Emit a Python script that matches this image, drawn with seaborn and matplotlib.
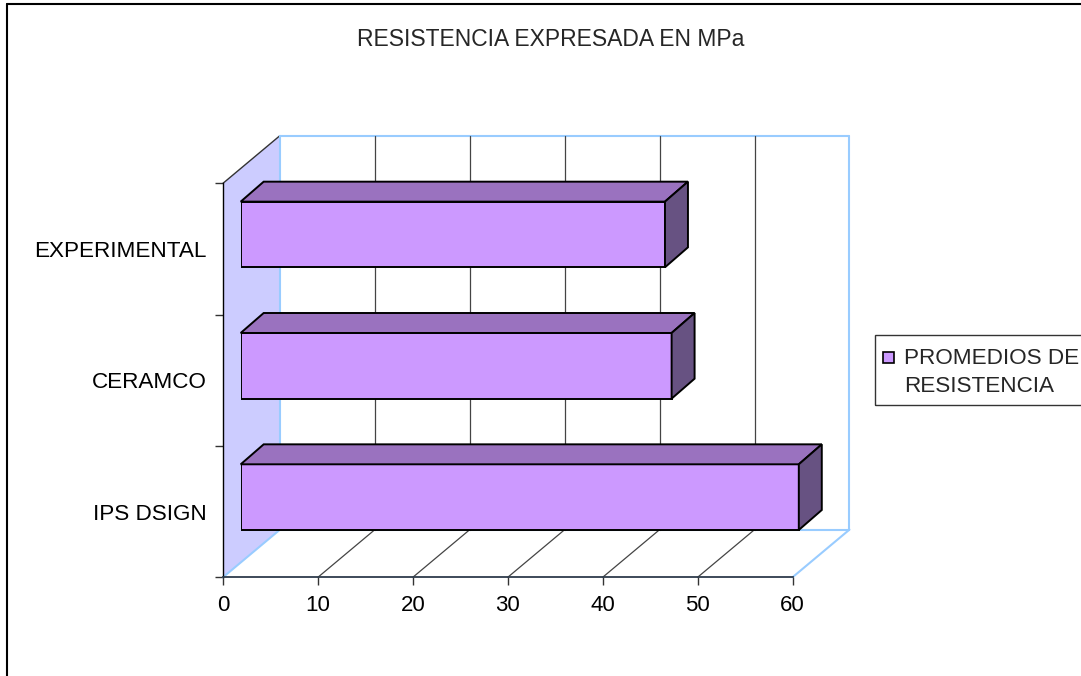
import matplotlib
matplotlib.use("Agg")
import matplotlib.pyplot as plt
from matplotlib.patches import Polygon, Rectangle
from matplotlib.lines import Line2D
import seaborn as sns
import pandas as pd

categories = ["EXPERIMENTAL", "CERAMCO", "IPS DSIGN"]
values = [44.7, 45.4, 58.8]
xticks = [0, 10, 20, 30, 40, 50, 60]
title = "RESISTENCIA EXPRESADA EN MPa"
series_name = "PROMEDIOS DE\nRESISTENCIA"

df = pd.DataFrame({"grupo": categories, "mpa": values})

sns.set_theme(style="white")
plt.rcParams["font.family"] = ["Liberation Sans", "DejaVu Sans"]

W, H = 1081, 676
fig = plt.figure(figsize=(W / 100, H / 100), dpi=100)


def box(x0, y0, x1, y1):
    # pixel box, origin top-left -> figure fraction
    return [x0 / W, 1 - y1 / H, (x1 - x0) / W, (y1 - y0) / H]


# front plane (axes) and bar plane shifted into depth
ax = fig.add_axes(box(223, 183.3, 792.5, 577.3))
ax2 = fig.add_axes(box(223 + 17.7, 183.3 - 14.5, 792.5 + 17.7, 577.3 - 14.5))

xmax = xticks[-1]
ax.set_xlim(0, xmax)
ax.set_ylim(2.5, -0.5)

# depth of the walls and of the bars in data units
wdx, wdy = 6.0, -0.363
bdx, bdy = 2.42, -0.152
blue = "#99ccff"

top, bot = -0.5, 2.5
ax.add_patch(Polygon([(0, bot), (0, top), (wdx, top + wdy), (wdx, bot + wdy)],
                     closed=True, fc="#ccccff", ec="none", zorder=0, clip_on=False))
ax.plot([0, wdx], [top, top + wdy], color="#333333", lw=1, clip_on=False, zorder=1)
ax.plot([wdx, wdx], [top + wdy, bot + wdy], color=blue, lw=1.5, clip_on=False, zorder=1)
ax.plot([wdx, xmax + wdx], [top + wdy, top + wdy], color=blue, lw=1.5, clip_on=False, zorder=1)
ax.plot([xmax + wdx, xmax + wdx], [top + wdy, bot + wdy], color=blue, lw=1.5, clip_on=False, zorder=1)
ax.plot([wdx, xmax + wdx], [bot + wdy, bot + wdy], color=blue, lw=1.5, clip_on=False, zorder=1)
ax.plot([0, wdx], [bot, bot + wdy], color=blue, lw=1.5, clip_on=False, zorder=1)
ax.plot([xmax, xmax + wdx], [bot, bot + wdy], color=blue, lw=1.5, clip_on=False, zorder=1)
for t in xticks[1:-1]:
    ax.plot([t + wdx, t + wdx], [top + wdy, bot + wdy], color="#444444", lw=0.9, clip_on=False, zorder=1)
    ax.plot([t, t + wdx], [bot, bot + wdy], color="#444444", lw=0.9, clip_on=False, zorder=1)

ax.set_xticks(xticks)
ax.set_yticks([0, 1, 2])
ax.set_yticklabels(categories)
ax.set_yticks([-0.5, 0.5, 1.5, 2.5], minor=True)
ax.tick_params(axis="x", bottom=True, direction="out", length=6, width=1,
               color="#333333", labelsize=16, pad=7, labelcolor="black")
ax.tick_params(axis="y", which="major", left=True, length=0, pad=12,
               labelsize=16.2, labelcolor="black")
ax.tick_params(axis="y", which="minor", left=True, direction="out", length=6,
               width=1, color="#333333")
for s in ["top", "right"]:
    ax.spines[s].set_visible(False)
ax.spines["left"].set_color("black")
ax.spines["left"].set_linewidth(1)
ax.spines["bottom"].set_color("#2e3c4c")
ax.spines["bottom"].set_linewidth(1.3)
ax.set_xlabel("")
ax.set_ylabel("")

# bars
sns.barplot(data=df, x="mpa", y="grupo", orient="h", color="#cc99ff", saturation=1,
            width=0.5, edgecolor="black", linewidth=1.4, ax=ax2)
ax2.set_xlim(0, xmax)
ax2.set_ylim(2.5, -0.5)
ax2.axis("off")

for p in list(ax2.patches):
    x0, y0, w, h = p.get_x(), p.get_y(), p.get_width(), p.get_height()
    ax2.add_patch(Polygon([(x0, y0), (x0 + bdx, y0 + bdy), (x0 + w + bdx, y0 + bdy), (x0 + w, y0)],
                          closed=True, fc="#9a72bf", ec="black", lw=1.4, clip_on=False))
    ax2.add_patch(Polygon([(x0 + w, y0), (x0 + w + bdx, y0 + bdy), (x0 + w + bdx, y0 + h + bdy), (x0 + w, y0 + h)],
                          closed=True, fc="#675282", ec="black", lw=1.4, clip_on=False))

fig.text(551 / W, 1 - 40 / H, title, ha="center", va="center", fontsize=16.5)

# legend
fig.add_artist(Rectangle((875 / W, 1 - 405 / H), (1095 - 875) / W, 70 / H,
                         transform=fig.transFigure, fill=False, ec="#333333", lw=1))
fig.add_artist(Rectangle((883 / W, 1 - 363 / H), 11 / W, 11 / H,
                         transform=fig.transFigure, fc="#cc99ff", ec="black", lw=1.2))
for i, line in enumerate(series_name.split("\n")):
    fig.text(904 / W, 1 - (358 + 28 * i) / H, line, ha="left", va="center", fontsize=16.2)

# chart area border
fig.add_artist(Line2D([7.5 / W, 7.5 / W], [1 - 4 / H, 0], color="black", lw=1.5))
fig.add_artist(Line2D([7.5 / W, 1], [1 - 4 / H, 1 - 4 / H], color="black", lw=1.5))

fig.savefig("out.png", dpi=100)
